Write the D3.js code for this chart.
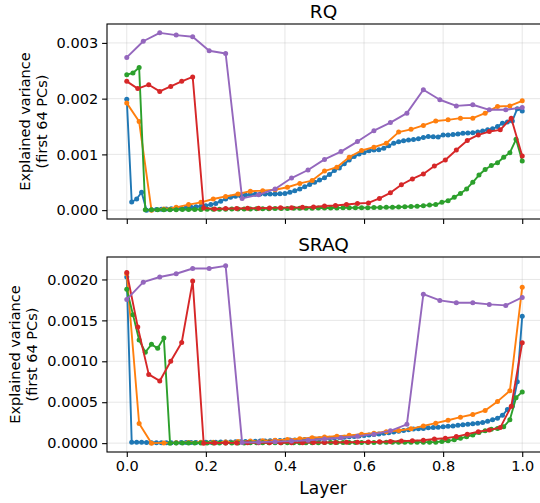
<!DOCTYPE html>
<html><head><meta charset="utf-8">
<script src="https://cdn.jsdelivr.net/npm/d3@7"></script>
<style>body{margin:0;background:#fff}svg{display:block}text{font-family:"DejaVu Sans",sans-serif}</style>
</head><body>
<svg id="c" width="540" height="503"></svg>
<script>
// values in units of 1e-3
const UNIT = 1e-3;
const seriesNames = ["blue","orange","green","red","purple"];
const colors = ["#1f77b4","#ff7f0e","#2ca02c","#d62728","#9467bd"];
const panelTitles = ["RQ","SRAQ"];
const xTicks = [0,0.2,0.4,0.6,0.8,1.0];
const rqTicks = [0,0.001,0.002,0.003];
const sraqTicks = [0,0.0005,0.001,0.0015,0.002];

const rqBlue = [1.99,0.145,0.20,0.32,0.0,0.005,0.01,0.015,0.02,0.025,0.03,0.035,0.045,0.05,0.06,0.07,0.08,0.10,0.12,0.16,
0.20,0.23,0.25,0.26,0.27,0.28,0.285,0.29,0.29,0.29,0.29,0.295,0.30,0.32,0.35,0.38,0.42,0.46,0.50,0.54,
0.58,0.64,0.71,0.755,0.83,0.90,0.96,1.005,1.035,1.065,1.08,1.085,1.11,1.155,1.20,1.225,1.245,1.26,1.265,1.28,
1.305,1.32,1.315,1.31,1.35,1.35,1.355,1.365,1.38,1.385,1.39,1.40,1.42,1.44,1.46,1.50,1.56,1.58,1.60,1.82,1.78];
const rqOrange = [1.92,1.59,0.0,0.02,0.05,0.10,0.14,0.20,0.245,0.29,0.34,0.35,0.365,0.41,0.48,0.53,0.70,0.77,0.95,1.07,1.13,1.20,1.40,1.45,1.52,1.60,1.62,1.65,1.65,1.74,1.86,1.87,1.96];
const rqGreen = [2.43,2.46,2.56,0.005,0.005,0.006,0.007,0.008,0.009,0.01,0.011,0.012,0.013,0.014,0.015,0.016,0.018,0.019,0.02,0.021,
0.022,0.024,0.025,0.026,0.028,0.03,0.031,0.033,0.034,0.035,0.036,0.037,0.038,0.039,0.04,0.041,0.042,0.043,0.044,0.045,
0.046,0.048,0.05,0.052,0.055,0.06,0.065,0.07,0.08,0.09,0.10,0.14,0.17,0.23,0.30,0.38,0.50,0.63,0.73,0.80,
0.85,0.95,1.03,1.27,0.88];
const rqRed = [2.31,2.18,2.25,2.13,2.22,2.31,2.39,0.04,0.02,0.03,0.03,0.035,0.035,0.04,0.045,0.045,0.05,0.055,0.075,0.084,0.10,0.12,0.13,0.21,0.31,0.455,0.56,0.65,0.79,0.90,1.08,1.25,1.35,1.41,1.44,1.65,0.97];
const rqPurple = [2.74,3.03,3.18,3.14,3.11,2.86,2.81,0.21,0.275,0.38,0.575,0.72,0.91,1.05,1.23,1.425,1.57,1.74,2.16,1.98,1.87,1.89,1.80,1.80,1.84];

const sraqBlue = [2.03,0.01,0.01,0.012,0.008,0.005,0.005,0.005,0.005,0.006,0.006,0.007,0.007,0.008,0.008,0.009,0.01,0.011,0.012,0.013,
0.014,0.015,0.016,0.018,0.02,0.021,0.023,0.025,0.027,0.029,0.031,0.033,0.035,0.037,0.039,0.042,0.045,0.048,0.051,0.054,
0.057,0.06,0.064,0.068,0.072,0.077,0.082,0.088,0.094,0.10,0.106,0.112,0.12,0.128,0.136,0.145,0.155,0.165,0.172,0.177,
0.18,0.187,0.19,0.195,0.2,0.207,0.21,0.22,0.224,0.232,0.236,0.244,0.252,0.268,0.285,0.305,0.34,0.41,0.45,0.75,1.55];
const sraqOrange = [2.07,0.24,0.0,0.003,0.005,0.008,0.01,0.012,0.015,0.02,0.025,0.03,0.035,0.045,0.055,0.065,0.075,0.085,0.095,0.11,0.12,0.14,0.155,0.175,0.21,0.244,0.28,0.317,0.35,0.40,0.51,0.64,1.906];
const sraqGreen = [1.88,1.57,1.26,1.11,1.207,1.158,1.284,0.0,0.001,0.001,0.001,0.002,0.002,0.002,0.002,0.003,0.003,0.003,0.003,0.003,
0.004,0.004,0.004,0.004,0.005,0.005,0.005,0.005,0.006,0.006,0.006,0.006,0.007,0.007,0.007,0.008,0.008,0.008,0.009,0.009,
0.009,0.01,0.01,0.01,0.011,0.011,0.011,0.012,0.012,0.012,0.012,0.02,0.028,0.04,0.06,0.077,0.1,0.13,0.15,0.17,
0.18,0.20,0.285,0.556,0.626];
const sraqRed = [2.085,1.42,0.84,0.76,1.00,1.23,1.98,0.0,0.002,0.003,0.003,0.004,0.004,0.005,0.005,0.006,0.006,0.007,0.008,0.009,0.01,0.012,0.014,0.016,0.02,0.025,0.03,0.036,0.05,0.06,0.08,0.11,0.14,0.16,0.19,0.45,1.227];
const sraqPurple = [1.756,1.967,2.03,2.07,2.134,2.134,2.166,0.007,0.012,0.018,0.025,0.035,0.05,0.065,0.085,0.11,0.15,0.23,1.82,1.744,1.715,1.715,1.695,1.683,1.78];

const panels = [
  {title: panelTitles[0], series:[rqBlue,rqOrange,rqGreen,rqRed,rqPurple], ticks: rqTicks, fmt: d3.format(".3f"), top:24, labelX:[30,47]},
  {title: panelTitles[1], series:[sraqBlue,sraqOrange,sraqGreen,sraqRed,sraqPurple], ticks: sraqTicks, fmt: d3.format(".4f"), top:257, labelX:[20,37]}
];

const TICK_FS = 14.5, LABEL_FS = 14.5, TITLE_FS = 18.5, XLABEL_FS = 17;
const svg = d3.select("#c");
const L = 107, R = 542, H = 195;
const x = d3.scaleLinear().domain([-0.05,1.05]).range([L,R]);

panels.forEach((p, pi) => {
  const pts = p.series.map(arr => arr.map((v,i)=>[i/(arr.length-1), v*UNIT]));
  const all = pts.flat().map(d=>d[1]);
  const lo = d3.min(all), hi = d3.max(all), pad = (hi-lo)*0.05;
  const y = d3.scaleLinear().domain([lo-pad, hi+pad]).range([p.top+H, p.top]);
  const g = svg.append("g");
  // grid
  g.append("g").selectAll("line").data(xTicks).join("line")
    .attr("x1",d=>x(d)).attr("x2",d=>x(d)).attr("y1",p.top).attr("y2",p.top+H)
    .attr("stroke","#b0b0b0").attr("stroke-opacity",0.3).attr("stroke-width",1);
  g.append("g").selectAll("line").data(p.ticks).join("line")
    .attr("x1",L).attr("x2",R).attr("y1",d=>y(d)).attr("y2",d=>y(d))
    .attr("stroke","#b0b0b0").attr("stroke-opacity",0.3).attr("stroke-width",1);
  // series
  const line = d3.line().x(d=>x(d[0])).y(d=>y(d[1]));
  pts.forEach((s,si)=>{
    const sg = g.append("g");
    sg.append("path").attr("d",line(s)).attr("fill","none").attr("stroke",colors[si]).attr("stroke-width",1.9).attr("stroke-linejoin","round");
    sg.selectAll("circle").data(s).join("circle").attr("cx",d=>x(d[0])).attr("cy",d=>y(d[1])).attr("r",2.5).attr("fill",colors[si]);
  });
  // frame
  g.append("rect").attr("x",L).attr("y",p.top).attr("width",R-L).attr("height",H)
    .attr("fill","none").attr("stroke","#000").attr("stroke-width",1.1);
  // y axis
  const ya = d3.axisLeft(y).tickValues(p.ticks).tickFormat(p.fmt).tickSize(4.9).tickPadding(4);
  const yg = g.append("g").attr("transform",`translate(${L},0)`).call(ya);
  yg.select(".domain").remove();
  yg.selectAll("text").attr("font-size",TICK_FS).attr("font-family","DejaVu Sans").attr("fill","#000");
  yg.selectAll("line").attr("stroke-width",1.1);
  // x axis
  const xa = d3.axisBottom(x).tickValues(xTicks).tickFormat(pi===1? d3.format(".1f") : "").tickSize(4.9).tickPadding(4);
  const xg = g.append("g").attr("transform",`translate(0,${p.top+H})`).call(xa);
  xg.select(".domain").remove();
  xg.selectAll("text").attr("font-size",TICK_FS).attr("font-family","DejaVu Sans").attr("fill","#000");
  xg.selectAll("line").attr("stroke-width",1.1);
  // title
  g.append("text").attr("x",(L+R)/2 - 1).attr("y",p.top-6).attr("text-anchor","middle").attr("font-size",TITLE_FS).text(p.title);
  // y label
  const cy = p.top + H/2;
  ["Explained variance","(first 64 PCs)"].forEach((t,k)=>{
    g.append("text").attr("transform",`translate(${p.labelX[k]},${cy}) rotate(-90)`)
      .attr("text-anchor","middle").attr("font-size",LABEL_FS).text(t);
  });
});
svg.append("text").attr("x",323).attr("y",494).attr("text-anchor","middle").attr("font-size",XLABEL_FS).text("Layer");
</script>
</body></html>
